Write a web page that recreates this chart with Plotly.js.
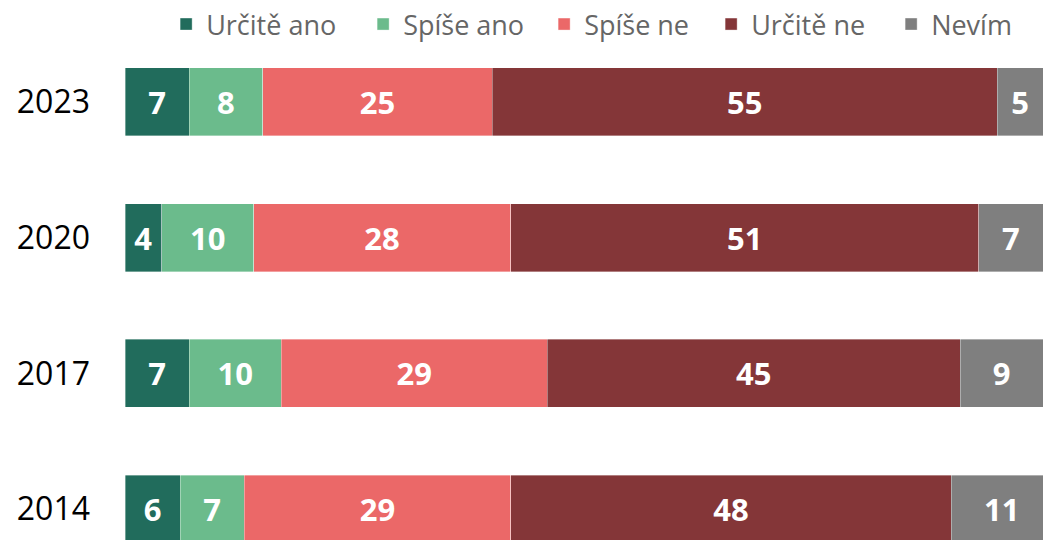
<!DOCTYPE html>
<html>
<head>
<meta charset="utf-8">
<script src="https://cdn.plot.ly/plotly-3.0.1.min.js"></script>
<style>html,body{margin:0;padding:0;background:#fff;}#chart{width:1043px;height:540px;}</style>
</head>
<body>
<div id="chart"></div>
<script>
const years = ['2023', '2020', '2017', '2014'];
const seriesNames = ['Určitě ano', 'Spíše ano', 'Spíše ne', 'Určitě ne', 'Nevím'];
const urciteAno = [7, 4, 7, 6];
const spiseAno = [8, 10, 10, 7];
const spiseNe = [25, 28, 29, 29];
const urciteNe = [55, 51, 45, 48];
const nevim = [5, 7, 9, 11];

const seriesValues = [urciteAno, spiseAno, spiseNe, urciteNe, nevim];
const colors = ['#216C5C', '#6BBB8C', '#EB6868', '#843638', '#7F7F7F'];
const legendWidths = [152, 136, 122, 135, 80];

const traces = seriesValues.map((vals, i) => ({
  type: 'bar',
  orientation: 'h',
  name: seriesNames[i],
  y: years,
  x: vals,
  text: vals.map(String),
  textposition: 'inside',
  insidetextanchor: 'middle',
  textangle: 0,
  constraintext: 'none',
  textfont: {family: 'Open Sans, sans-serif', size: 31, color: '#ffffff', weight: 'bold'},
  marker: {color: colors[i], line: {color: 'rgba(255,255,255,0.45)', width: 0.8}},
  legendwidth: legendWidths[i],
  hoverinfo: 'none',
  cliponaxis: true
}));

const layout = {
  width: 1043,
  height: 540,
  margin: {l: 125, r: 0, t: 33, b: 0, pad: 0},
  barmode: 'stack',
  bargap: 0.5,
  paper_bgcolor: '#ffffff',
  plot_bgcolor: '#ffffff',
  showlegend: true,
  legend: {
    orientation: 'h',
    x: 0.0448,
    xanchor: 'left',
    y: 1.018,
    yanchor: 'middle',
    font: {family: 'Open Sans, sans-serif', size: 27, color: '#666666'},
    traceorder: 'normal',
    bgcolor: 'rgba(0,0,0,0)'
  },
  xaxis: {
    range: [0, 100],
    showgrid: false,
    zeroline: false,
    showticklabels: false,
    showline: false,
    fixedrange: true
  },
  yaxis: {
    type: 'category',
    range: [3.228, -0.5],
    showgrid: false,
    zeroline: false,
    showline: false,
    ticks: '',
    ticklabelstandoff: 34,
    tickfont: {family: 'Open Sans, sans-serif', size: 32, color: '#000000'},
    fixedrange: true
  }
};

Plotly.newPlot('chart', traces, layout, {displayModeBar: false, staticPlot: true});
</script>
</body>
</html>
